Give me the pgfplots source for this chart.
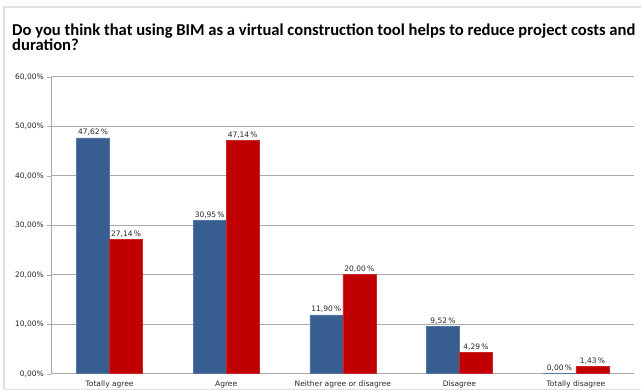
\documentclass[border=0pt]{standalone}
\usepackage{pgfplots}
\pgfplotsset{compat=1.18}
\usepackage{fontspec}
\setmainfont{DejaVu Sans}
\newfontfamily\titlefont{Carlito}
\definecolor{bblue}{RGB}{56,94,145}
\definecolor{bred}{RGB}{192,0,0}
\definecolor{gridc}{RGB}{170,170,170}
\begin{document}
\begin{tikzpicture}[x=1pt,y=1pt]
\useasboundingbox (0,0) rectangle (641,390);
\begin{scope}
\clip (0,0) rectangle (641,390);
\draw[black!12, line width=1.2pt] (4,0.8) rectangle (680,383);
\end{scope}
\node[anchor=base west, inner sep=0pt, font=\titlefont\bfseries\fontsize{16.6}{19}\selectfont] at (12,354) {Do you think that using BIM as a virtual construction tool helps to reduce project costs and};
\node[anchor=base west, inner sep=0pt, font=\titlefont\bfseries\fontsize{16.6}{19}\selectfont] at (12,339) {duration?};
\begin{axis}[
  at={(44,33)}, anchor=south west, scale only axis,
  width=583pt, height=297pt,
  ybar=0pt, bar width=33pt,
  xmin=-0.5, xmax=4.5, ymin=0, ymax=60,
  axis x line*=bottom, axis y line*=left,
  axis line style={gridc},
  tick align=outside,
  xtick={0,1,2,3,4},
  xticklabels={Totally agree, Agree, Neither agree or disagree, Disagree, Totally disagree},
  x tick style={draw=none},
  extra x ticks={-0.5,0.5,1.5,2.5,3.5,4.5},
  extra x tick labels={},
  extra x tick style={tick style={draw=gridc}, major tick length=4pt, grid=none},
  ytick={0,10,...,60},
  y tick style={draw=gridc},
  major tick length=4pt,
  ymajorgrids, grid style={gridc, line width=0.6pt},
  yticklabel={\pgfmathprintnumber[fixed,fixed zerofill,precision=2,use comma]{\tick}\%},
  /pgf/number format/assume math mode=true,
  ticklabel style={font=\fontsize{7.5}{9}\selectfont, text=black!85},
  nodes near coords={\pgfmathprintnumber[fixed,fixed zerofill,precision=2,use comma,assume math mode=true]{\pgfplotspointmeta}\,\%},
  every node near coord/.append style={font=\fontsize{7.5}{9}\selectfont, text=black!85, inner sep=2pt},
  xticklabel style={anchor=base, yshift=-9pt},
]
\addplot[fill=bblue, draw=bblue!85!white] coordinates {(0,47.62) (1,30.95) (2,11.90) (3,9.52) (4,0.00)};
\addplot[fill=bred, draw=bred!85!white] coordinates {(0,27.14) (1,47.14) (2,20.00) (3,4.29) (4,1.43)};
\end{axis}
\end{tikzpicture}
\end{document}
